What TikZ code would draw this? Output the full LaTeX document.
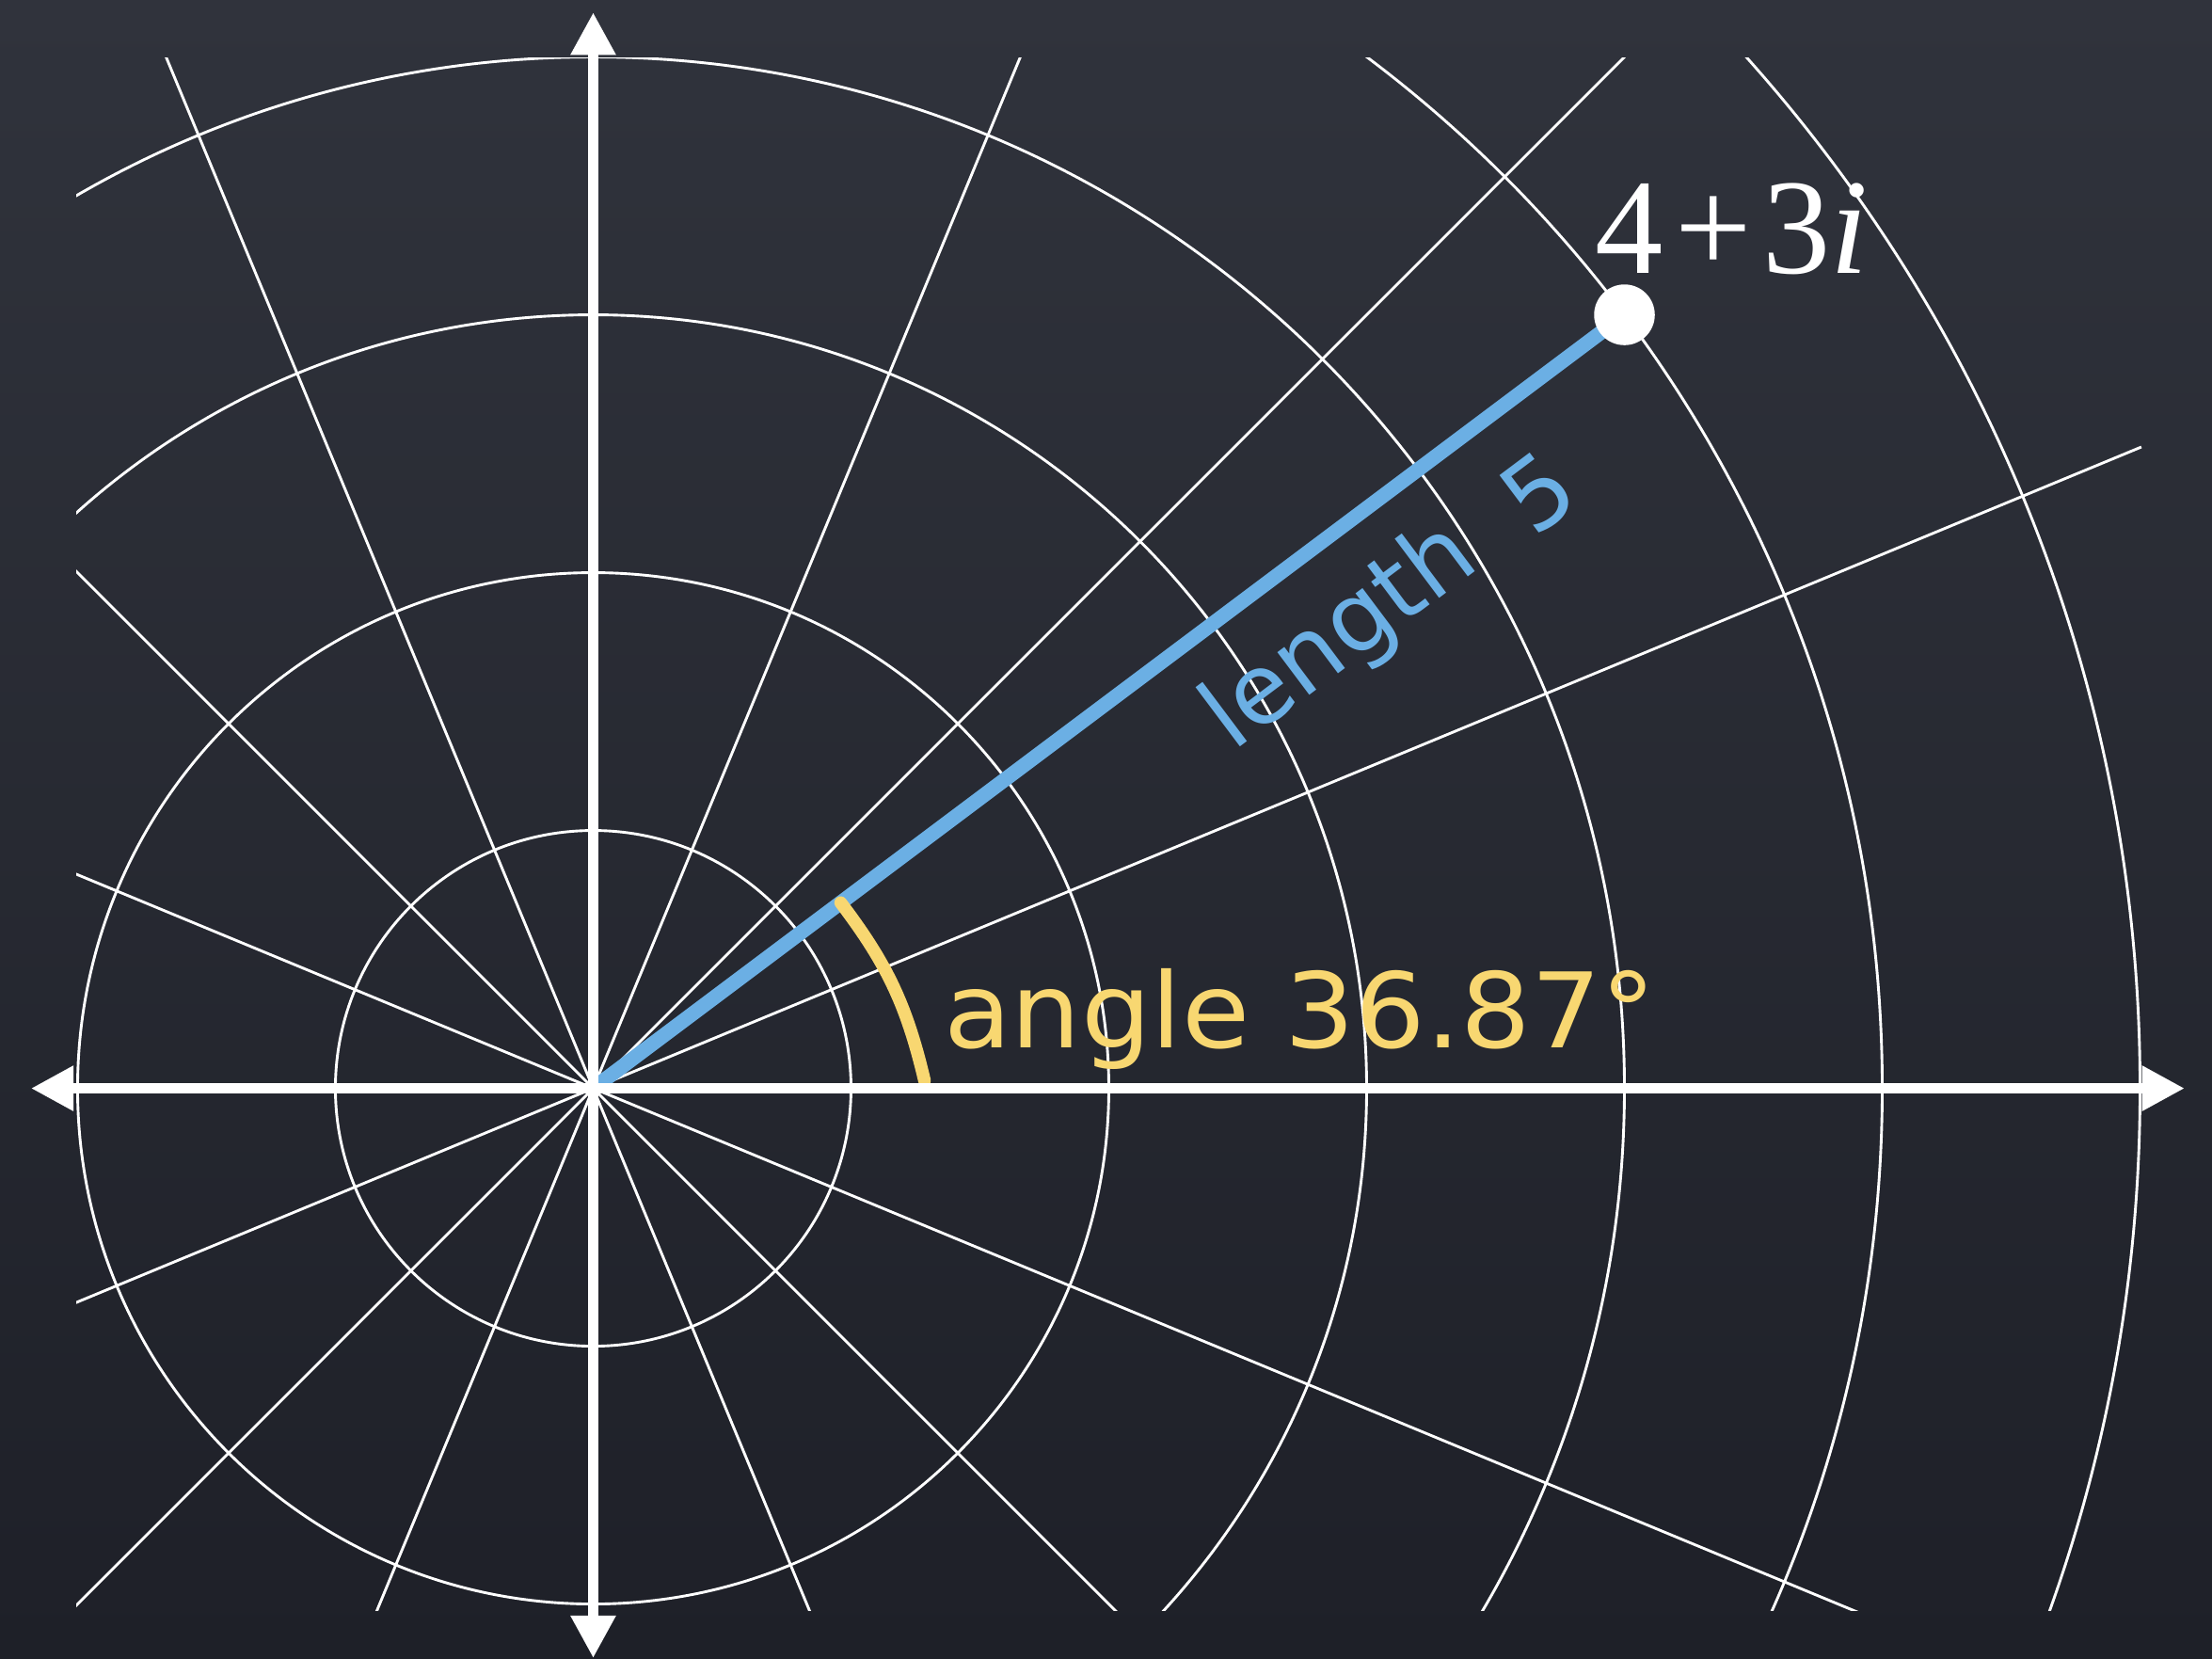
\documentclass[tikz,border=0pt]{standalone}
\usepackage{fontspec}
\setmainfont{Liberation Serif}
\newfontfamily\handfont{DejaVu Sans}
\newfontfamily\handfontW[FakeStretch=1.06]{DejaVu Sans}
\usetikzlibrary{arrows.meta}
\definecolor{boardtop}{HTML}{30333C}
\definecolor{boardbot}{HTML}{1E2028}
\definecolor{chalkblue}{HTML}{6BAFE4}
\definecolor{chalkyellow}{HTML}{F8D771}
\begin{document}
\begin{tikzpicture}[x=2cm,y=2cm,
  gridline/.style={white, line width=0.6pt},
  axisline/.style={white, line width=2.3pt,
    {Triangle[length=9.4pt,width=9.4pt]}-{Triangle[length=9.4pt,width=9.4pt]}},
  bluechalk/.style={chalkblue, line width=3.2pt, line cap=round},
  yellowchalk/.style={chalkyellow, line width=2.8pt, line cap=round},
  dotnode/.style={circle, fill=white, inner sep=0pt, minimum size=13.4pt},
  ptlabel/.style={white, inner sep=0pt, anchor=base west,
    font=\fontsize{30}{30}\selectfont},
  lenlabel/.style={chalkblue, inner sep=0pt, anchor=base west, rotate=36.87,
    font=\handfont\fontsize{21.5}{21.5}\selectfont},
  anglabel/.style={chalkyellow, inner sep=0pt, anchor=base west,
    font=\handfontW\fontsize{23}{23}\selectfont}]
\useasboundingbox (-2.301,-2.210) rectangle (6.279,4.221);
\shade[top color=boardtop, bottom color=boardbot] (-2.301,-2.210) rectangle (6.279,4.221);
% polar grid
\begin{scope}
  \clip (-2.005,-2.027) rectangle (6.02,3.995);
  \foreach \r in {1,...,6} \draw[gridline] (0,0) circle[radius=\r];
  \foreach \a in {22.5,45,...,337.5} \draw[gridline] (0,0) -- (\a:6.5);
\end{scope}
\coordinate (O) at (0,0);
\coordinate (P) at (4,3);
% vector
\draw[bluechalk] (O) -- (P);
% angle mark
\coordinate (A1) at (36.87:1.2);
\coordinate (A2) at (1.285,0.03);
\draw[yellowchalk] (A1) to[bend left=12] (A2);
% axes
\coordinate (XL) at (-2.181,0);
\coordinate (XR) at (6.173,0);
\coordinate (YB) at (0,-2.210);
\coordinate (YT) at (0,4.173);
\draw[axisline] (XL) -- (XR);
\draw[axisline] (YB) -- (YT);
% point and labels
\node[dotnode] (dot) at (P) {};
\node[ptlabel] (lbl) at (3.885,3.162) {4\kern2.5pt+\kern2.5pt3\textit{i}};
\node[lenlabel] (len) at (2.480,1.300) {length\hspace{0.6em}\raisebox{-2pt}{5}};
\node[anglabel] (ang) at (1.356,0.159) {angle 36.87°};
\end{tikzpicture}
\end{document}
